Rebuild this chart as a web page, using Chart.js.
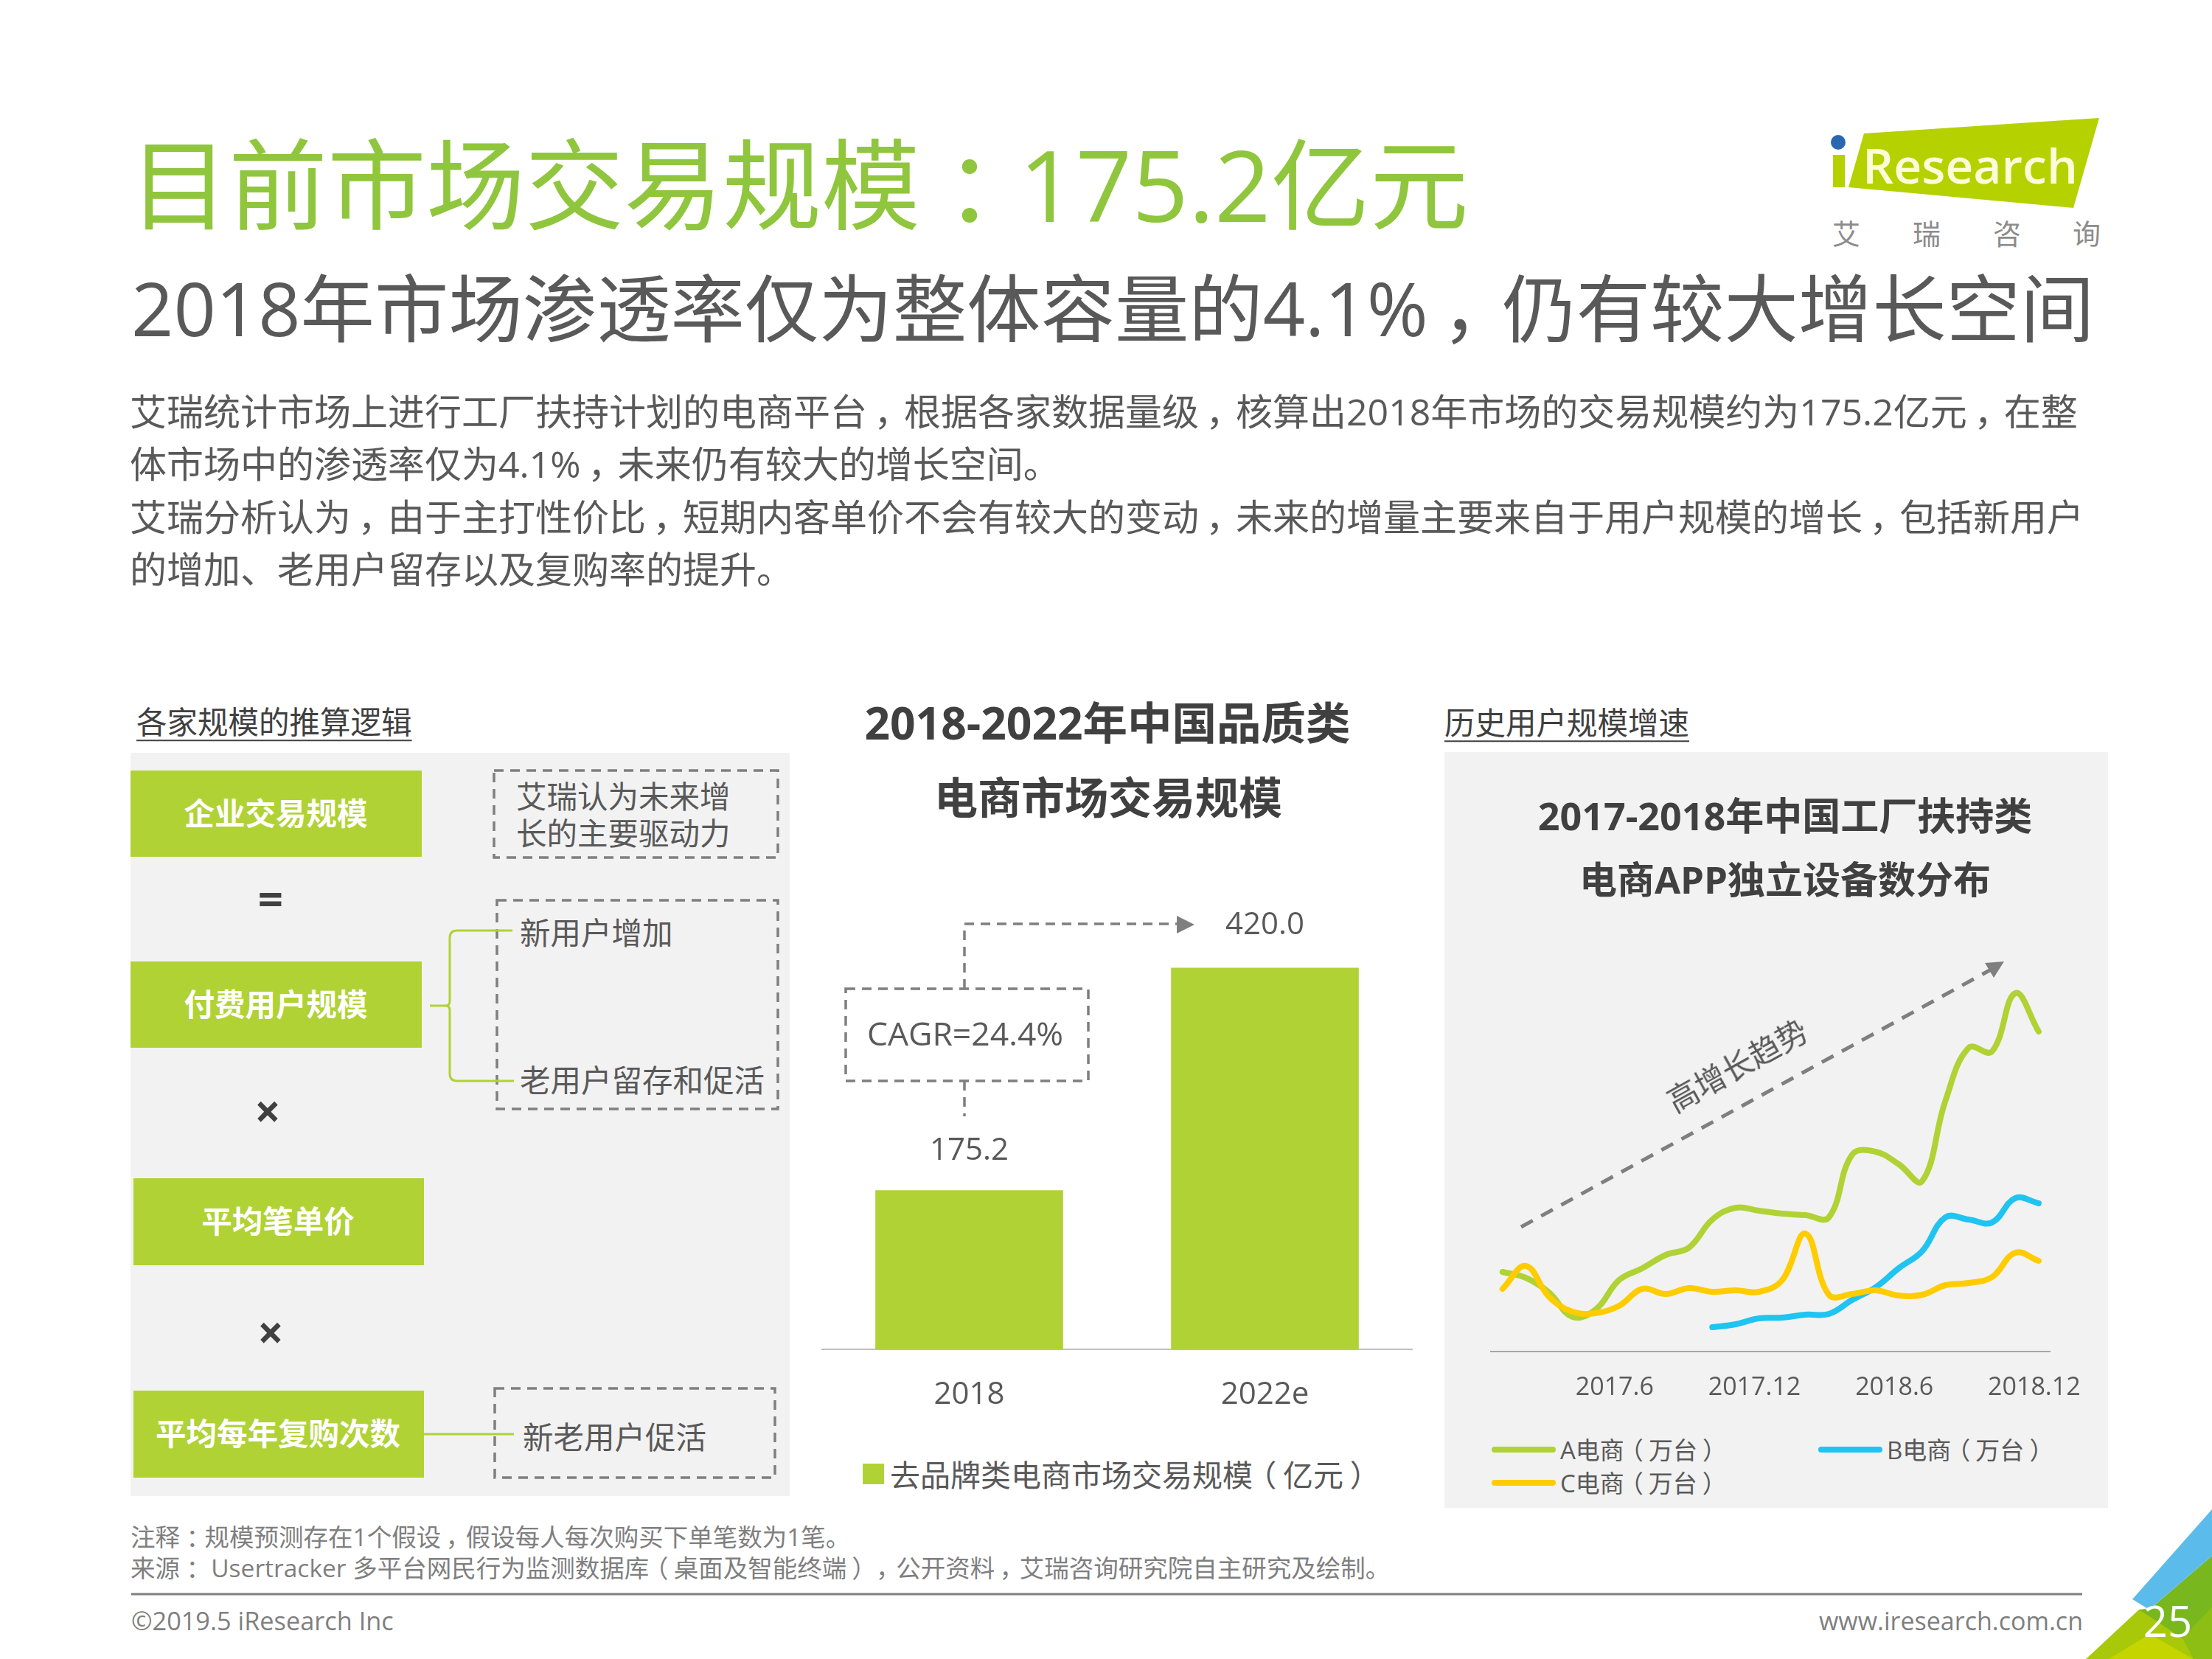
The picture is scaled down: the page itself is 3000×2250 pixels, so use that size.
<!DOCTYPE html>
<html lang="zh-CN">
<head>
<meta charset="utf-8">
<title>目前市场交易规模</title>
<script src="https://cdn.jsdelivr.net/npm/chart.js@4"></script>
<style>
  html, body { margin: 0; padding: 0; background: #fff; }
  #page { position: relative; width: 3000px; height: 2250px; overflow: hidden;
    font-family: "Open Sans", "Noto Sans CJK SC", sans-serif; color: #595959; }
  #page > * { position: absolute; }
  .t { white-space: nowrap; line-height: 1; }
  /* the original centres full-width punctuation in its cell */
  .p { display: inline-block; width: 1em; text-align: center; font-feature-settings: "palt"; }
  .box { background: #b0d235; }
  .panel { background: #f2f2f2; }
  svg { left: 0; top: 0; }
</style>
</head>
<body>
<div id="page">
  <div class="panel" style="left:177px;top:1021px;width:894px;height:1008px"></div>
  <div class="panel" style="left:1959px;top:1020px;width:900px;height:1025px"></div>
  <div class="box" style="left:177px;top:1045px;width:395px;height:117px"></div>
  <div class="box" style="left:177px;top:1304px;width:395px;height:117px"></div>
  <div class="box" style="left:181px;top:1598px;width:394px;height:118px"></div>
  <div class="box" style="left:181px;top:1886px;width:394px;height:118px"></div>

  <svg width="3000" height="2250" viewBox="0 0 3000 2250" fill="none">
    <!-- left panel -->
    <g stroke="#7f7f7f" stroke-width="3.5" stroke-dasharray="13 9">
      <rect x="670" y="1045" width="385" height="118"/>
      <rect x="674" y="1221" width="381" height="283"/>
      <rect x="671" y="1883" width="380" height="121"/>
    </g>
    <g stroke="#b0d235" stroke-width="3">
      <path d="M583 1364 H604 Q610 1364 610 1358 V1272 Q610 1262 620 1262 H695"/>
      <path d="M604 1364 Q610 1364 610 1370 V1456 Q610 1466 620 1466 H697"/>
      <path d="M575 1945 H697"/>
    </g>
    <!-- CAGR callout -->
    <g stroke="#7f7f7f" stroke-width="3.5" stroke-dasharray="13 9">
      <rect x="1147" y="1341" width="329" height="125"/>
      <path d="M1308 1341 V1253 H1596"/>
      <path d="M1308 1466 V1514"/>
    </g>
    <path d="M1596 1242 L1620 1254 L1596 1266 Z" fill="#7f7f7f"/>
    <!-- growth arrow -->
    <path d="M2063 1664 L2702 1314" stroke="#7f7f7f" stroke-width="5" stroke-dasharray="18 13"/>
    <path d="M2692 1306 L2718 1304 L2704 1326 Z" fill="#7f7f7f"/>
    <!-- logo -->
    <path d="M2528 181 L2847 160 L2812 282 L2507 254 Z" fill="#b5d100"/>
    <rect x="2486" y="210" width="16" height="44" fill="#b5d100"/>
    <circle cx="2493" cy="193" r="10" fill="#2b66b1"/>
    <!-- footer -->
    <path d="M178 2162 H2824" stroke="#7f7f7f" stroke-width="3"/>
    <!-- corner -->
    <path d="M2829 2250 L2901 2183 L3000 2170 V2250 Z" fill="#a8c80a"/>
    <path d="M2901 2183 L2915 2183 L3000 2110 V2180 L2960 2222 Z" fill="#78b81e"/>
    <path d="M2860 2250 L2916 2216 L2974 2250 Z" fill="#c5d500"/>
    <path d="M3000 2047 V2110 L2915 2183 L2892 2169 Z" fill="#5bbcec"/>
    <path d="M3000 2180 V2250 H2975 L2960 2222 Z" fill="#8cbe14"/>
  </svg>

  <canvas id="barChart" width="802" height="690" style="left:1114px;top:1230px"></canvas>
  <canvas id="lineChart" width="870" height="640" style="left:1980px;top:1280px"></canvas>
</div>

<script>
// bar chart
const barCategories = ['2018', '2022e'];
const barValues = [175.2, 420.0];
const barSeriesName = '去品牌类电商市场交易规模（亿元）';

// line chart (no axis values in the original)
const months = ['2017.1', '2017.2', '2017.3', '2017.4', '2017.5', '2017.6', '2017.7', '2017.8',
  '2017.9', '2017.10', '2017.11', '2017.12', '2018.1', '2018.2', '2018.3', '2018.4', '2018.5',
  '2018.6', '2018.7', '2018.8', '2018.9', '2018.10', '2018.11', '2018.12'];
const monthTicks = ['2017.6', '2017.12', '2018.6', '2018.12'];
const seriesA = [108, 100, 80, 47, 57, 97, 113, 131, 141, 179, 195, 191, 187, 185, 182, 267, 271, 254, 231, 340, 412, 407, 486, 434];
const seriesB = [null, null, null, null, null, null, null, null, null, 33, 37, 45, 46, 50, 51, 70, 87, 113, 136, 182, 179, 175, 208, 201];
const seriesC = [85, 116, 74, 54, 52, 62, 85, 78, 86, 81, 83, 81, 97, 160, 77, 78, 83, 76, 77, 90, 93, 101, 134, 123];
const lineNames = ['A电商（万台）', 'B电商（万台）', 'C电商（万台）'];

const GREEN = '#b0d235';
const BLUE = '#1fc4f0';
const YELLOW = '#ffcc00';
const FONT = '"Open Sans", "Noto Sans CJK SC", sans-serif';
const page = document.getElementById('page');

// y is the vertical centre of the text
function addText(str, x, y, size, color, extra) {
  const el = document.createElement('div');
  el.className = 't';
  str.split(/([，：（）])/).forEach(part => {
    if (!part) return;
    if ('，：（）'.includes(part)) {
      const span = document.createElement('span');
      span.className = 'p';
      span.textContent = part;
      el.appendChild(span);
    } else {
      el.appendChild(document.createTextNode(part));
    }
  });
  el.style.cssText = `left:${x}px;top:${y}px;font-size:${size}px;color:${color || '#595959'};transform:translateY(-50%);${extra || ''}`;
  page.appendChild(el);
  return el;
}
function addCentered(str, x, y, size, color, extra) {
  return addText(str, x, y, size, color, 'transform:translate(-50%,-50%);' + (extra || ''));
}

// headings
addText('目前市场交易规模：175.2亿元', 176, 249, 134, '#8fc63d');
addText('2018年市场渗透率仅为整体容量的4.1%，仍有较大增长空间', 178, 417, 100.4, '#595959');
addText('艾瑞统计市场上进行工厂扶持计划的电商平台，根据各家数据量级，核算出2018年市场的交易规模约为175.2亿元，在整', 176, 558, 50);
addText('体市场中的渗透率仅为4.1%，未来仍有较大的增长空间。', 176, 629, 50);
addText('艾瑞分析认为，由于主打性价比，短期内客单价不会有较大的变动，未来的增量主要来自于用户规模的增长，包括新用户', 176, 701, 50);
addText('的增加、老用户留存以及复购率的提升。', 176, 772, 50);

// logo
addText('Research', 2526, 223, 66, '#fbfdd8', 'font-weight:600');
[['艾', 2504], ['瑞', 2613], ['咨', 2722], ['询', 2830]].forEach(([c, x]) => addCentered(c, x, 316, 38, '#8c8c8c'));

// left panel
addText('各家规模的推算逻辑', 185, 980, 41.5, '#404040', 'text-decoration:underline;text-underline-offset:8px;text-decoration-thickness:2px');
addCentered('企业交易规模', 374, 1104, 41.5, '#fff', 'font-weight:700');
addCentered('付费用户规模', 374, 1363, 41.5, '#fff', 'font-weight:700');
addCentered('平均笔单价', 377, 1657, 41.5, '#fff', 'font-weight:700');
addCentered('平均每年复购次数', 377, 1945, 41.5, '#fff', 'font-weight:700');
addCentered('=', 367, 1218, 60, '#404040', 'font-weight:700');
addCentered('×', 363, 1506, 62, '#404040', 'font-weight:700');
addCentered('×', 367, 1806, 62, '#404040', 'font-weight:700');
addText('艾瑞认为未来增', 700, 1081, 41.5);
addText('长的主要驱动力', 700, 1131, 41.5);
addText('新用户增加', 705, 1266, 41.5);
addText('老用户留存和促活', 705, 1466, 41.5);
addText('新老用户促活', 709, 1950, 41.5);

// bar chart heading and legend
addCentered('2018-2022年中国品质类', 1502, 980, 60.5, '#404040', 'font-weight:700');
addCentered('电商市场交易规模', 1503, 1081, 59, '#404040', 'font-weight:700');
addCentered('CAGR=24.4%', 1309, 1401, 44.5);
const barSwatch = document.createElement('div');
barSwatch.style.cssText = `left:1170px;top:1985px;width:29px;height:28px;background:${GREEN}`;
page.appendChild(barSwatch);
addText(barSeriesName, 1207, 2000, 41);

// line chart heading and legend
addText('历史用户规模增速', 1959, 981, 41.5, '#404040', 'text-decoration:underline;text-underline-offset:8px;text-decoration-thickness:2px');
addCentered('2017-2018年中国工厂扶持类', 2421, 1106, 52, '#404040', 'font-weight:700');
addCentered('电商APP独立设备数分布', 2421, 1192, 51, '#404040', 'font-weight:700');
addCentered('高增长趋势', 2356, 1445, 42, '#595959', 'transform:translate(-50%,-50%) rotate(-29deg)');
[[GREEN, 2023, 1966, 2116], [BLUE, 2466, 1966, 2559], [YELLOW, 2023, 2011, 2116]].forEach(([color, x, y, textX], i) => {
  const swatch = document.createElement('div');
  swatch.style.cssText = `left:${x}px;top:${y - 4}px;width:87px;height:8px;border-radius:4px;background:${color}`;
  page.appendChild(swatch);
  addText(lineNames[i], textX, y, 33);
});

// notes and footer
addText('注释：规模预测存在1个假设，假设每人每次购买下单笔数为1笔。', 177, 2085, 33.5, '#7f7f7f');
addText('来源： Usertracker 多平台网民行为监测数据库（桌面及智能终端），公开资料，艾瑞咨询研究院自主研究及绘制。', 177, 2127, 33.5, '#7f7f7f');
addText('©2019.5 iResearch Inc', 178, 2198, 34.3, '#7f7f7f');
addText('www.iresearch.com.cn', 2825, 2198, 34, '#7f7f7f', 'transform:translate(-100%,-50%)');
addCentered('25', 2940, 2198, 58, '#fff');

// value labels above the bars
const barValueLabels = {
  id: 'barValueLabels',
  afterDatasetsDraw(chart) {
    const { ctx } = chart;
    ctx.save();
    ctx.font = `42px ${FONT}`;
    ctx.fillStyle = '#595959';
    ctx.textAlign = 'center';
    ctx.textBaseline = 'middle';
    chart.getDatasetMeta(0).data.forEach((bar, i) => {
      ctx.fillText(barValues[i].toFixed(1), bar.x, bar.y - (i === 0 ? 53 : 58));
    });
    ctx.restore();
  }
};

Chart.defaults.animation = false;
Chart.defaults.devicePixelRatio = 1;
Chart.defaults.font.family = FONT;

new Chart(document.getElementById('barChart'), {
  type: 'bar',
  data: {
    labels: barCategories,
    datasets: [{ label: barSeriesName, data: barValues, backgroundColor: GREEN, barPercentage: 0.635, categoryPercentage: 1 }]
  },
  options: {
    responsive: false,
    layout: { autoPadding: false, padding: 0 },
    plugins: { legend: { display: false }, tooltip: { enabled: false } },
    scales: {
      y: { display: false, min: 0, max: 487 },
      x: {
        afterFit: scale => { scale.height = 90; },
        grid: { display: false },
        border: { display: true, color: '#bfbfbf', width: 2 },
        ticks: { color: '#595959', padding: 29, font: { size: 42 } }
      }
    }
  },
  plugins: [barValueLabels]
});

function lineDataset(label, data, color, order) {
  return { label, data, borderColor: color, borderWidth: 8, borderCapStyle: 'round', pointRadius: 0, tension: 0.4, clip: false, order };
}

new Chart(document.getElementById('lineChart'), {
  type: 'line',
  data: {
    labels: months,
    datasets: [
      lineDataset(lineNames[0], seriesA, GREEN, 3),
      lineDataset(lineNames[1], seriesB, BLUE, 2),
      lineDataset(lineNames[2], seriesC, YELLOW, 1)
    ]
  },
  options: {
    responsive: false,
    layout: { autoPadding: false, padding: { left: 42, right: 65 } },
    plugins: { legend: { display: false }, tooltip: { enabled: false } },
    scales: {
      y: { display: false, min: 0, max: 553 },
      x: {
        offset: true,
        afterFit: scale => { scale.height = 87; },
        grid: { display: false },
        border: { display: true, color: '#a6a6a6', width: 2 },
        ticks: {
          color: '#595959',
          padding: 21,
          labelOffset: -6,
          autoSkip: false,
          maxRotation: 0,
          font: { size: 34 },
          callback(value) {
            const label = this.getLabelForValue(value);
            return monthTicks.includes(label) ? label : '';
          }
        }
      }
    }
  }
});
</script>
</body>
</html>
